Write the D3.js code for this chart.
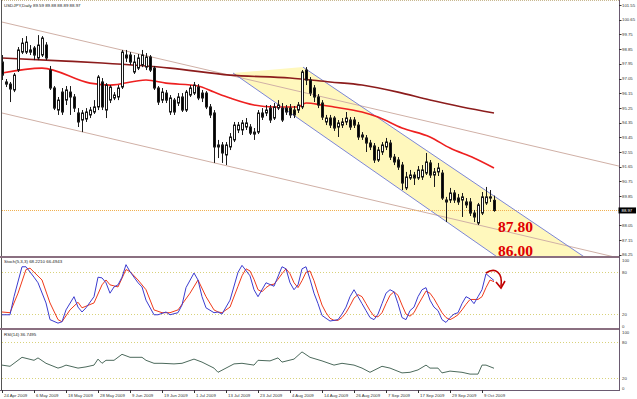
<!DOCTYPE html>
<html>
<head>
<meta charset="utf-8">
<script src="https://cdn.jsdelivr.net/npm/d3@7"></script>
<style>
body { margin: 0; background: #fff; }
svg { display: block; }
text { font-family: "Liberation Sans", Arial, sans-serif; }
</style>
</head>
<body>
<svg id="chart"></svg>
<script>
// USDJPY daily, one entry per bar (bar 0 = 24 Apr 2009)
var opens = [98.06,96.71,96.71,96.35,97.57,98.67,98.67,98.80,98.92,98.31,
  98.49,99.10,97.57,96.47,95.12,96.22,95.73,96.22,95.92,94.94,
  94.51,94.57,94.82,95.00,95.31,96.84,95.12,95.73,95.86,95.92,
  96.53,98.49,98.49,97.45,97.69,97.88,97.75,98.37,97.69,96.47,
  95.73,96.16,95.00,95.73,95.55,95.92,95.12,96.04,96.16,96.53,
  96.16,96.16,95.31,94.94,92.86,92.98,92.37,92.86,93.29,93.90,
  93.90,94.08,94.08,93.77,93.77,94.94,94.94,95.24,94.63,95.24,
  95.24,95.24,95.24,95.12,95.12,95.31,97.57,96.96,96.47,95.92,
  95.55,94.39,94.63,94.63,94.08,94.20,94.39,94.51,94.51,94.20,
  93.47,93.41,93.10,92.92,92.06,92.55,92.86,93.10,92.24,92.06,
  91.75,90.35,90.96,91.14,90.96,91.02,91.26,91.88,91.14,91.33,
  91.26,89.49,89.61,90.04,89.73,89.61,89.49,89.49,88.81,88.20,
  88.81,89.43,89.80,89.59];
var highs = [98.49,97.02,96.84,97.39,98.98,99.53,99.65,99.10,99.04,99.71,
  99.65,99.28,97.82,96.59,95.92,96.47,96.59,96.59,96.10,95.24,
  95.12,95.24,95.31,95.73,97.26,97.08,96.77,96.65,96.22,96.65,
  98.80,98.80,98.67,98.49,98.55,98.80,98.61,98.49,97.82,96.59,
  96.47,96.35,96.04,95.86,96.16,96.16,96.35,96.65,96.84,96.71,
  96.35,96.28,95.49,95.12,93.29,93.16,93.16,93.71,94.39,94.39,
  94.51,94.63,94.26,94.02,95.12,95.24,95.43,95.43,95.55,95.73,
  95.55,95.43,95.49,95.37,95.61,97.57,97.75,97.14,96.65,96.10,
  95.73,94.82,94.82,94.75,94.51,94.63,95.00,94.69,94.69,94.39,
  93.77,93.59,93.29,93.10,92.86,93.16,93.41,93.29,92.43,92.24,
  91.94,91.33,91.45,91.33,91.69,91.75,92.49,92.06,91.57,91.88,
  91.45,89.80,90.35,90.22,89.98,90.04,89.73,89.73,89.00,89.43,
  90.10,90.41,90.22,89.88];
var lows = [96.96,96.53,95.61,96.22,97.45,98.55,98.55,98.49,98.18,98.18,
  98.37,98.18,96.35,95.12,94.82,94.82,95.43,94.82,95.00,94.08,
  93.77,94.39,94.63,94.88,95.12,95.12,94.63,95.55,95.73,95.73,
  96.41,98.06,97.88,97.33,97.57,97.75,97.57,97.45,96.35,95.43,
  95.55,95.55,94.82,94.82,95.37,95.00,95.00,95.92,96.04,95.73,
  95.61,95.18,94.63,91.88,92.18,91.88,91.75,92.67,93.16,93.71,
  93.59,93.90,93.59,93.29,93.65,94.51,94.75,94.33,94.51,95.12,
  94.39,94.82,94.63,94.63,94.94,95.18,96.65,95.98,95.61,95.24,
  94.51,94.20,94.02,93.84,93.47,94.02,94.20,93.90,94.02,93.29,
  93.29,92.55,92.67,91.88,91.94,92.37,92.67,92.06,91.75,91.45,
  90.22,90.22,90.84,90.53,90.84,90.84,91.14,90.96,90.41,91.08,
  89.61,88.26,89.43,89.43,89.31,88.57,89.12,88.63,88.26,88.08,
  88.69,89.31,89.49,88.89];
var closes = [97.26,96.84,96.41,97.26,98.80,99.22,99.28,98.67,98.49,99.10,
  99.53,98.31,96.47,95.24,95.73,95.00,96.35,95.92,95.24,94.39,
  94.94,95.00,95.12,95.31,97.14,95.31,96.65,96.53,96.04,96.47,
  98.67,98.31,98.06,98.06,98.31,98.49,98.37,97.57,96.47,95.61,
  96.22,95.73,95.86,95.00,95.92,95.12,96.22,96.47,96.65,95.86,
  95.86,95.31,94.82,92.86,92.98,92.49,92.98,93.47,94.20,94.20,
  94.33,94.33,93.71,93.65,94.94,94.69,95.12,94.51,95.31,95.43,
  94.51,95.00,94.82,94.82,95.43,97.45,96.96,96.16,95.92,95.43,
  94.69,94.63,94.20,94.02,94.33,94.39,94.63,94.08,94.20,93.47,
  93.59,93.10,92.86,92.06,92.67,92.98,93.16,92.24,91.94,91.63,
  90.65,91.02,91.14,90.96,91.45,91.45,91.94,91.14,91.33,91.57,
  89.73,89.61,90.04,89.61,89.49,89.80,89.31,88.81,88.57,89.31,
  89.80,89.80,89.73,88.97];

// moving averages: [bar, price]
var maFast = [[0,97.39],[10,97.69],[22,96.77],[27,96.65],[36,96.96],[41,96.77],[49,96.59],
  [53,96.22],[57,95.86],[63,95.43],[68,95.31],[74,95.31],[76,95.55],[80,95.43],[83,95.31],
  [90,95.00],[94,94.69],[100,94.02],[107,93.47],[112,92.79],[118,92.18],[123,91.57]];
var maSlow = [[0,98.31],[16,98.12],[25,98.00],[42,97.69],[57,97.26],[72,97.08],[82,96.84],
  [90,96.65],[99,96.22],[107,95.73],[115,95.31],[123,94.94]];

// Stochastic (5,3,3) main / signal: [bar, value]
var stochK = [[0,19],[2,19],[3,45],[5,88],[6,88],[8,73],[9,65],[11,36],[12,12],[14,7],[15,9],
  [16,26],[18,45],[19,30],[20,23],[21,29],[23,45],[24,73],[25,72],[26,65],[27,50],[28,59],
  [29,62],[30,73],[31,91],[32,81],[34,65],[35,59],[36,40],[38,19],[39,19],[41,23],[42,19],
  [44,22],[45,33],[46,58],[48,79],[49,69],[50,45],[51,29],[53,22],[54,23],[55,20],[57,40],
  [59,80],[60,90],[62,75],[63,55],[64,45],[66,65],[68,60],[70,88],[71,85],[72,65],[73,55],
  [74,62],[75,85],[76,88],[77,70],[78,50],[79,35],[80,18],[82,10],[84,12],[85,20],[86,30],
  [87,45],[88,55],[89,45],[90,35],[91,25],[92,15],[93,12],[94,20],[95,35],[96,50],[97,55],
  [98,52],[99,35],[100,15],[101,12],[102,25],[103,30],[104,45],[105,55],[106,58],[107,40],
  [108,30],[109,25],[110,12],[111,8],[112,15],[113,20],[114,22],[115,35],[116,45],[117,42],
  [118,35],[119,45],[120,55],[121,78],[122,73],[123,68.22]];
var stochD = [[0,23],[2,22],[4,50],[6,84],[7,86],[10,69],[12,36],[14,12],[15,9],[17,26],
  [19,37],[20,29],[23,36],[25,62],[26,69],[27,62],[29,59],[31,84],[32,81],[34,69],[36,55],
  [38,26],[40,22],[42,22],[44,26],[47,50],[49,69],[51,45],[53,26],[54,23],[55,22],[57,30],
  [59,60],[60,75],[61,85],[62,82],[63,70],[64,55],[65,52],[66,58],[67,62],[68,63],[69,70],
  [70,78],[71,85],[72,78],[73,65],[74,58],[75,68],[76,80],[77,82],[78,68],[79,50],[80,33],
  [81,22],[82,14],[83,11],[84,11],[85,15],[86,22],[87,32],[88,43],[89,48],[90,45],[91,35],
  [92,25],[93,17],[94,16],[95,22],[96,35],[97,47],[98,52],[99,47],[100,33],[101,20],[102,17],
  [103,22],[104,33],[105,43],[106,53],[107,50],[108,42],[109,32],[110,22],[111,15],[112,12],
  [113,15],[114,19],[115,26],[116,34],[117,41],[118,41],[119,41],[120,45],[121,58],[122,69],
  [123,66.49]];

// RSI(14): [bar, value]
var rsi = [[0,42],[2,40],[5,55],[8,50],[9,54],[11,45],[14,37],[15,39],[16,42],[19,37],[21,39],
  [23,42],[24,52],[25,45],[26,50],[28,50],[30,60],[32,55],[35,55],[36,50],[38,45],[40,45],
  [43,44],[45,45],[48,52],[50,47],[53,37],[54,30],[56,37],[58,44],[60,45],[63,42],[64,50],
  [67,49],[69,54],[70,47],[73,52],[75,64],[77,55],[80,49],[83,42],[85,45],[88,42],[90,37],
  [92,30],[95,40],[97,37],[100,29],[102,30],[104,34],[106,42],[107,37],[109,37],[110,29],
  [112,32],[115,30],[117,27],[119,27],[120,42],[121,42],[123,36.75]];

// drawn objects: [bar, price] anchors
var trendUpper = [[0,100.51],[150,91.93]];
var trendLower = [[0,94.94],[150,86.30]];
var channelTop = [[75.25,97.75],[144.5,86.30]];
var channelBottom = [[57.75,97.39],[122.75,86.30]];
var targetLabels = ["87.80","86.00"];
var targetPrices = [87.80, 86.00];
var lastPrice = 88.97;

var priceTicks = [101.55,100.65,99.75,98.85,97.95,97.05,96.15,95.25,94.35,93.45,92.55,91.65,
  90.75,89.85,88.05,87.15,86.25];
var oscTicks = [100,80,20,0];
var dateBars = [0,8,16,24,32,40,48,56,64,72,80,88,96,104,112,120];
var dateLabels = ["24 Apr 2009","6 May 2009","18 May 2009","28 May 2009","9 Jun 2009",
  "19 Jun 2009","1 Jul 2009","13 Jul 2009","23 Jul 2009","4 Aug 2009","14 Aug 2009",
  "26 Aug 2009","7 Sep 2009","17 Sep 2009","29 Sep 2009","9 Oct 2009"];

var W = 637, H = 399, axisX = 619;
var svg = d3.select("#chart").attr("width", W).attr("height", H);
svg.append("rect").attr("width", W).attr("height", H).attr("fill", "#fff");

var x = d3.scaleLinear().domain([0, 154.25]).range([2, axisX]);
var y = d3.scaleLinear().domain([86.18, 101.80]).range([256, 1]);
var ys = d3.scaleLinear().domain([0, 100]).range([328, 258.4]);
var yr = d3.scaleLinear().domain([0, 100]).range([390.3, 330.3]);

svg.append("clipPath").attr("id", "mainClip").append("rect")
  .attr("x", 2).attr("y", 0).attr("width", axisX - 2).attr("height", 256);
var main = svg.append("g").attr("clip-path", "url(#mainClip)");

function ext(p, toBar) {
  var s = (p[1][1] - p[0][1]) / (p[1][0] - p[0][0]);
  return [toBar, p[0][1] + s * (toBar - p[0][0])];
}

// yellow channel
var cEndTop = ext(channelTop, 170), cEndBot = ext(channelBottom, 170);
var poly = [channelBottom[0], channelTop[0], cEndTop, cEndBot];
main.append("path")
  .attr("d", "M" + poly.map(function(p) { return x(p[0]) + "," + y(p[1]); }).join("L") + "Z")
  .attr("fill", "#fff8bd");

var pline = d3.line().x(function(d) { return x(d[0]); }).y(function(d) { return y(d[1]); });

// long trend lines
[trendUpper, trendLower].forEach(function(t) {
  main.append("path").attr("d", pline([ext(t, -2), ext(t, 160)]))
    .attr("stroke", "#d0b0a6").attr("stroke-width", 1).attr("fill", "none");
});
// channel borders
[channelTop, channelBottom].forEach(function(t) {
  main.append("path").attr("d", pline([t[0], ext(t, 170)]))
    .attr("stroke", "#7c86d6").attr("stroke-width", 1).attr("fill", "none");
});

// moving averages
main.append("path").attr("d", pline.curve(d3.curveMonotoneX)(maSlow))
  .attr("stroke", "#8c1c1c").attr("stroke-width", 1.6).attr("fill", "none");
main.append("path").attr("d", pline.curve(d3.curveMonotoneX)(maFast))
  .attr("stroke", "#ee2020").attr("stroke-width", 1.6).attr("fill", "none");
pline.curve(d3.curveLinear);

// last price line
main.append("line").attr("x1", 2).attr("x2", axisX)
  .attr("y1", Math.round(y(lastPrice)) + 0.5).attr("y2", Math.round(y(lastPrice)) + 0.5)
  .attr("stroke", "#f0b050").attr("stroke-dasharray", "1,1");

// candles
var candles = opens.map(function(o, i) {
  return { i: i, o: o, h: highs[i], l: lows[i], c: closes[i] };
});
var cg = main.selectAll("g.candle").data(candles).enter().append("g").attr("class", "candle");
cg.append("line")
  .attr("x1", function(d) { return Math.round(x(d.i)) + 0.5; })
  .attr("x2", function(d) { return Math.round(x(d.i)) + 0.5; })
  .attr("y1", function(d) { return y(d.h); })
  .attr("y2", function(d) { return y(d.l); })
  .attr("stroke", "#1a1a1a");
cg.append("rect")
  .attr("x", function(d) { return Math.round(x(d.i)) - 0.5; })
  .attr("width", 2)
  .attr("y", function(d) { return y(Math.max(d.o, d.c)); })
  .attr("height", function(d) { return Math.max(0.5, Math.abs(y(d.o) - y(d.c))); })
  .attr("fill", function(d) { return d.c >= d.o ? "#fff" : "#000"; })
  .attr("stroke", "#1a1a1a").attr("stroke-width", 1);

// target labels
main.selectAll("text.target").data(targetPrices).enter().append("text")
  .attr("class", "target")
  .attr("x", x(124))
  .attr("y", function(d) { return Math.min(y(d) + 2.5, 256); })
  .text(function(d, i) { return targetLabels[i]; })
  .attr("fill", "#e00000")
  .style("font-family", "'Liberation Serif', 'Times New Roman', serif")
  .style("font-weight", "bold").style("font-size", "15.5px");

svg.append("text").attr("x", 4).attr("y", 7.3)
  .text("USDJPY,Daily  89.59 89.88 88.89 88.97")
  .style("font-size", "4.4px").attr("fill", "#222");

// oscillator panels
function levels(scale) {
  [80, 20].forEach(function(v) {
    svg.append("line").attr("x1", 2).attr("x2", axisX)
      .attr("y1", Math.round(scale(v)) + 0.5).attr("y2", Math.round(scale(v)) + 0.5)
      .attr("stroke", "#d8d27a").attr("stroke-dasharray", "1,2");
  });
}
levels(ys);
levels(yr);

var oline = function(scale) {
  return d3.line().x(function(d) { return x(d[0]); }).y(function(d) { return scale(d[1]); });
};
svg.append("path").attr("d", oline(ys)(stochD))
  .attr("stroke", "#f03a1a").attr("stroke-width", 1).attr("fill", "none");
svg.append("path").attr("d", oline(ys)(stochK))
  .attr("stroke", "#3c3cd0").attr("stroke-width", 1).attr("fill", "none");
svg.append("path").attr("d", oline(yr)(rsi))
  .attr("stroke", "#4c6a5c").attr("stroke-width", 1).attr("fill", "none");

svg.append("text").attr("x", 4).attr("y", 263.3)
  .text("Stoch(5,3,3) 68.2210 66.4943").style("font-size", "4.4px").attr("fill", "#222");
svg.append("text").attr("x", 4).attr("y", 336)
  .text("RSI(14) 36.7495").style("font-size", "4.4px").attr("fill", "#222");

// red arrow on stochastic
var ax0 = x(121), ay0 = ys(79);
svg.append("path")
  .attr("d", "M" + ax0 + "," + ay0 + " C" + (ax0 + 9) + "," + (ay0 - 6) + " " + (ax0 + 17) + "," + (ay0 - 1) + " " + (ax0 + 15) + "," + (ay0 + 13))
  .attr("stroke", "#c00000").attr("stroke-width", 1.6).attr("fill", "none");
svg.append("path")
  .attr("d", "M" + (ax0 + 10) + "," + (ay0 + 9) + " L" + (ax0 + 15) + "," + (ay0 + 15) + " L" + (ax0 + 19) + "," + (ay0 + 8))
  .attr("stroke", "#c00000").attr("stroke-width", 1.6).attr("fill", "none");

// frame and separators
svg.append("line").attr("x1", 1.5).attr("x2", 1.5).attr("y1", 0).attr("y2", 390)
  .attr("stroke", "#555");
svg.append("line").attr("x1", 2).attr("x2", axisX).attr("y1", 0.5).attr("y2", 0.5)
  .attr("stroke", "#c8b890").attr("stroke-dasharray", "1,1");
[257, 329].forEach(function(yy) {
  svg.append("line").attr("x1", 0).attr("x2", axisX).attr("y1", yy).attr("y2", yy)
    .attr("stroke", "#8a6f80").attr("stroke-width", 2);
});
svg.append("line").attr("x1", 0).attr("x2", axisX + 1).attr("y1", 390.5).attr("y2", 390.5)
  .attr("stroke", "#6a5a70");
svg.append("line").attr("x1", axisX + 0.5).attr("x2", axisX + 0.5).attr("y1", 0).attr("y2", 391)
  .attr("stroke", "#6a5a70");

// price axis
var pa = svg.append("g").selectAll("g").data(priceTicks).enter().append("g");
pa.append("line").attr("x1", axisX).attr("x2", axisX + 2.5)
  .attr("y1", function(d) { return Math.round(y(d)) + 0.5; })
  .attr("y2", function(d) { return Math.round(y(d)) + 0.5; })
  .attr("stroke", "#333");
pa.append("text").attr("x", axisX + 3).attr("y", function(d) { return y(d) + 1.6; })
  .text(function(d) { return d.toFixed(2); })
  .style("font-size", "4.3px").attr("fill", "#333");

// last price box
svg.append("rect").attr("x", axisX - 0.5).attr("y", y(lastPrice) - 3)
  .attr("width", 17.5).attr("height", 6).attr("fill", "#000");
svg.append("text").attr("x", axisX + 2.5).attr("y", y(lastPrice) + 1.6)
  .text(lastPrice.toFixed(2)).style("font-size", "4.3px").attr("fill", "#fff");

// oscillator axes
[[ys, 258.4, 328], [yr, 330.3, 390.3]].forEach(function(p) {
  var sc = p[0];
  svg.append("g").selectAll("text").data(oscTicks).enter().append("text")
    .attr("x", axisX + 3)
    .attr("y", function(d) { return Math.max(p[1] + 3.5, Math.min(p[2] - 0.5, sc(d) + 1.6)); })
    .text(function(d) { return d; })
    .style("font-size", "4.3px").attr("fill", "#333");
});

// date axis
var da = svg.append("g").selectAll("g").data(dateBars).enter().append("g");
da.append("line")
  .attr("x1", function(d) { return Math.round(x(d)) + 0.5; })
  .attr("x2", function(d) { return Math.round(x(d)) + 0.5; })
  .attr("y1", 390).attr("y2", 393).attr("stroke", "#333");
da.append("text").attr("x", function(d) { return x(d) + 2; }).attr("y", 397.3)
  .text(function(d, i) { return dateLabels[i]; })
  .style("font-size", "4.3px").attr("fill", "#333");
</script>
</body>
</html>
